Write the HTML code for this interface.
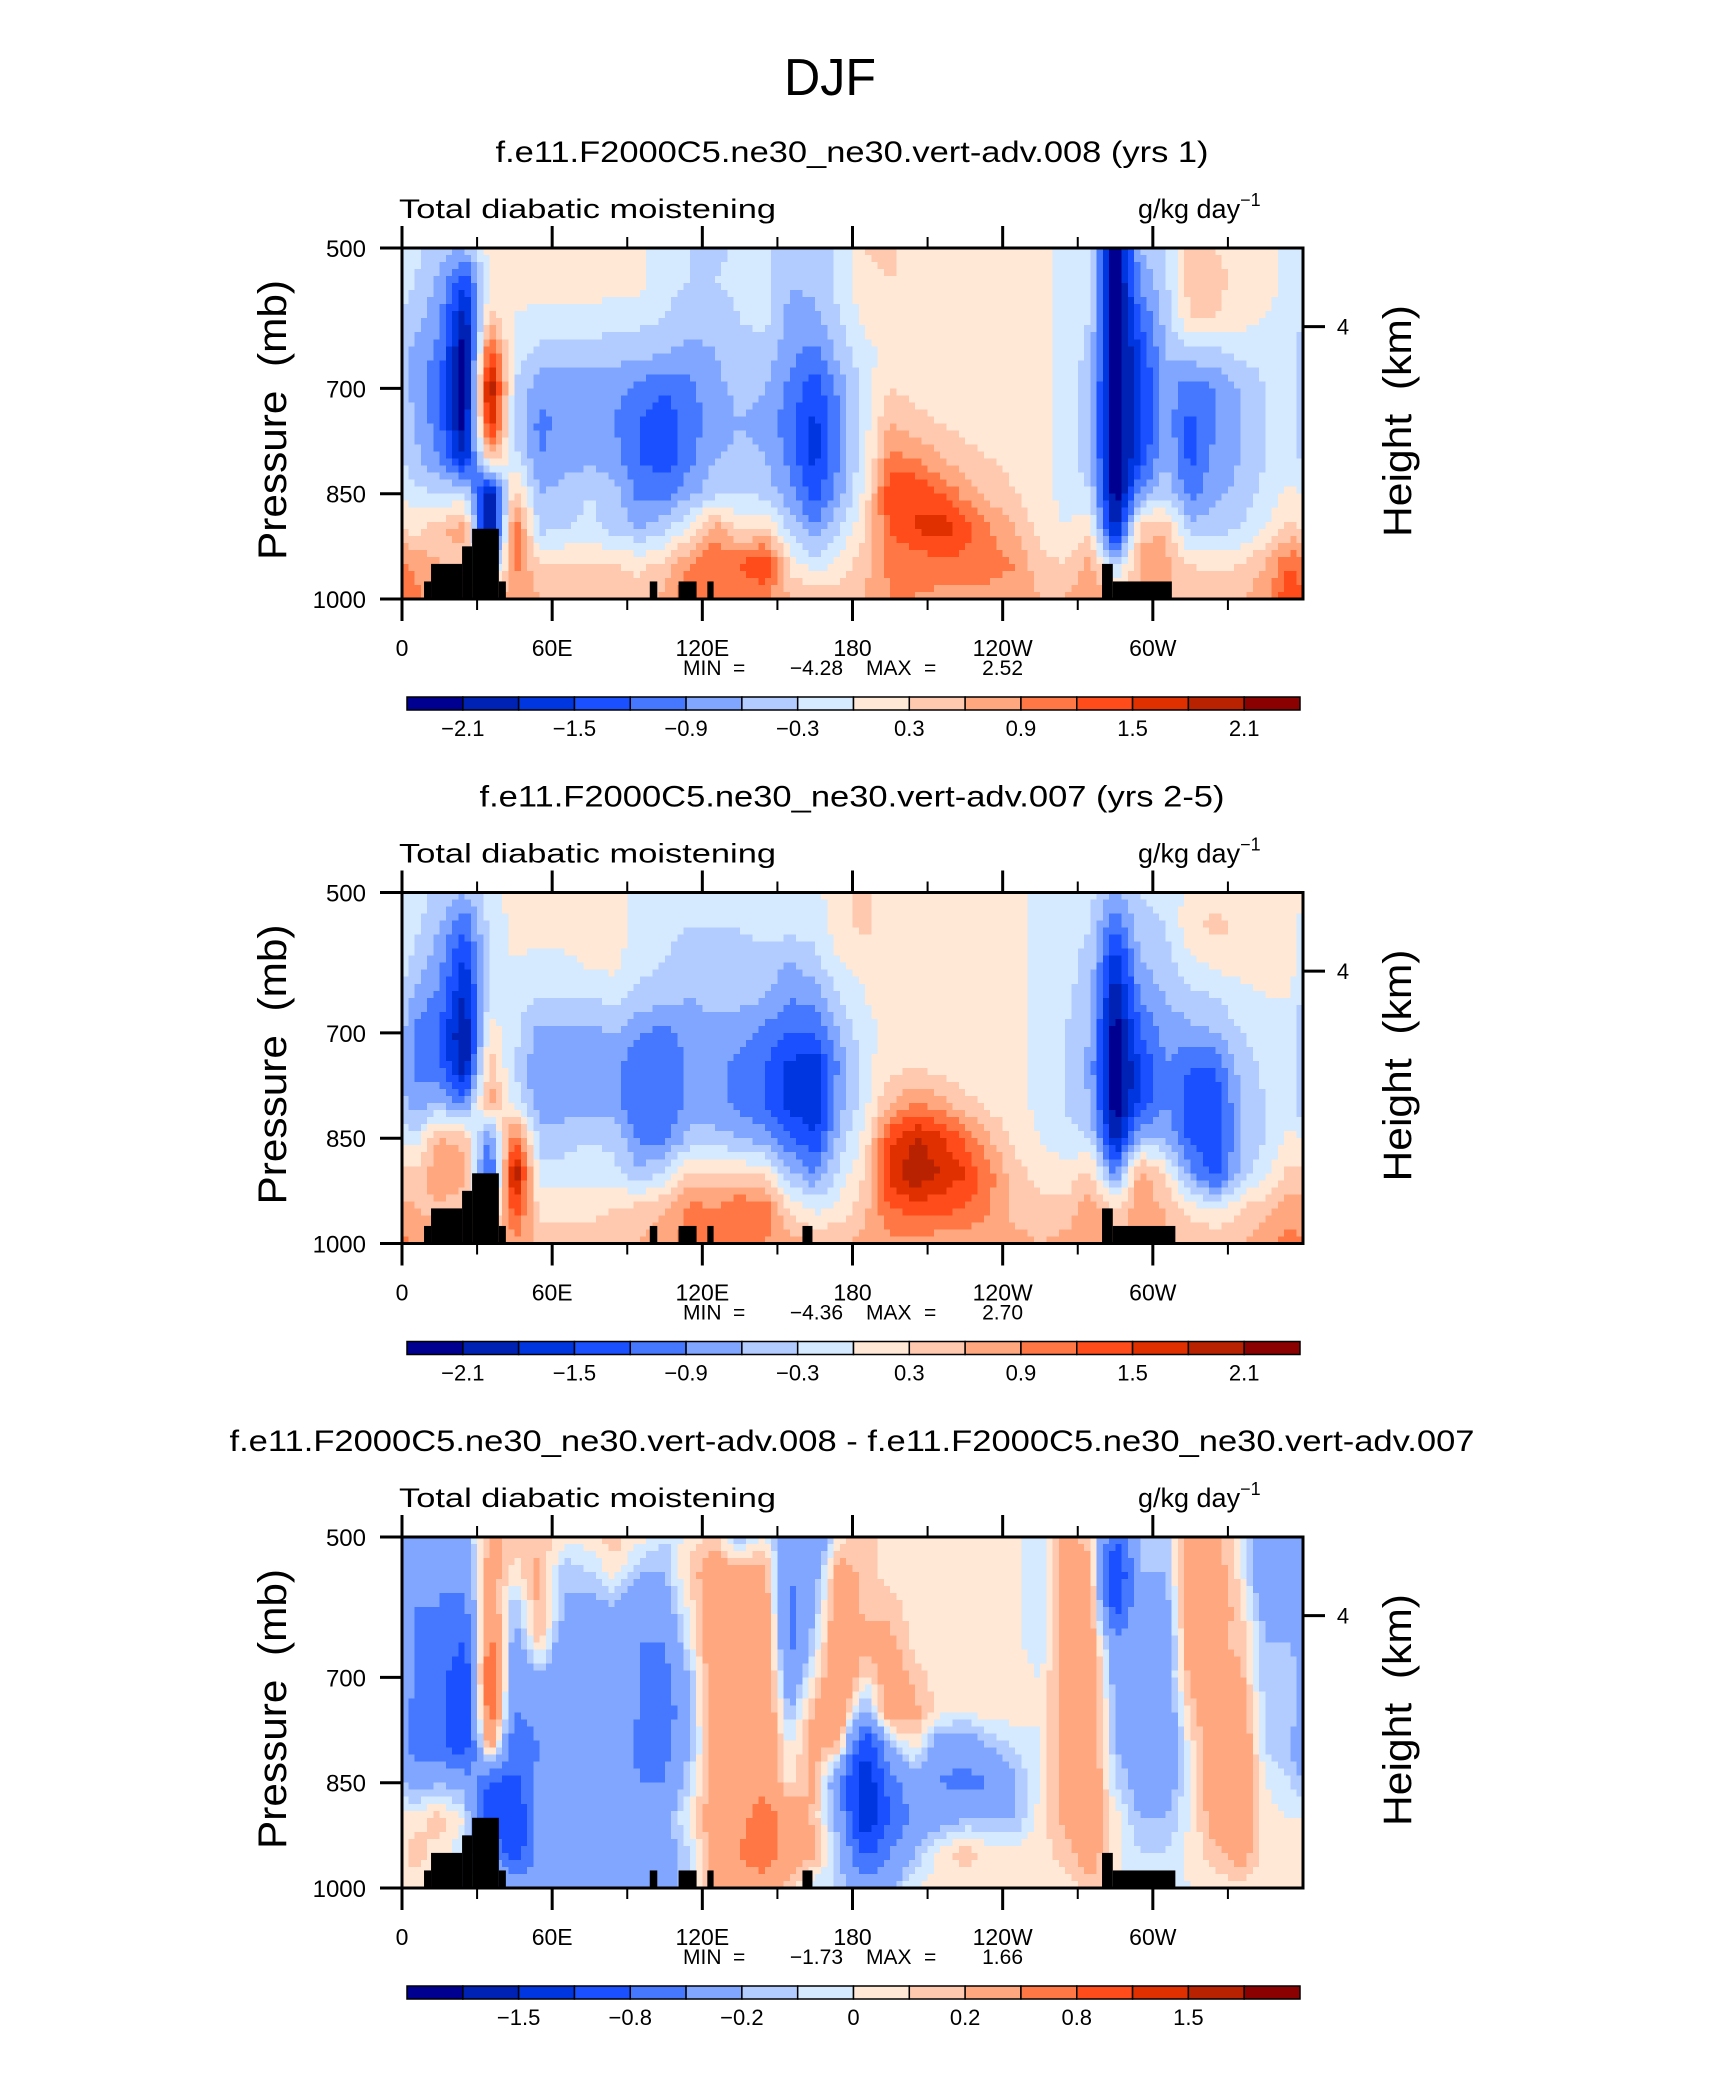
<!DOCTYPE html>
<html><head><meta charset="utf-8"><style>
html,body{margin:0;padding:0;background:#fff;}
svg{display:block;}
text{font-family:"Liberation Sans",sans-serif;fill:#000;white-space:pre;}
</style></head><body>
<svg id="fig" width="1710" height="2074" viewBox="0 0 1710 2074" xmlns="http://www.w3.org/2000/svg">
<rect width="1710" height="2074" fill="#fff"/>
<text x="830" y="95" font-size="52" text-anchor="middle" textLength="92" lengthAdjust="spacingAndGlyphs">DJF</text>
<g id="panels"></g>
</svg>
<script>
// ---- data ----
const lons = [5,15,25,35,45,55,65,75,85,95,105,115,125,135,145,155,165,175,185,195,205,215,225,235,245,255,265,275,285,295,305,315,325,335,345,355];
const levs = [500,550,600,650,700,750,800,850,900,950,1000];
const xTickVals = [0,60,120,180,240,300];
const xTickLabels = ["0","60E","120E","180","120W","60W"];
const xMinorVals = [30,90,150,210,270,330];
const yTickVals = [500,700,850,1000];
const yTickLabels = ["500","700","850","1000"];
const heightTickP = 612;
const colors = ["#000090","#0022b4","#0036e0","#1a50ff","#4578ff","#80a6ff","#b3ccff","#d6eaff","#ffe8d6","#ffc9b0","#ffa880","#ff7744","#ff4c1a","#e03000","#b82200","#8b0000"];
const levelsA = [-2.1,-1.8,-1.5,-1.2,-0.9,-0.6,-0.3,0,0.3,0.6,0.9,1.2,1.5,1.8,2.1];
const labelsA = ["-2.1","","-1.5","","-0.9","","-0.3","","0.3","","0.9","","1.5","","2.1"];
const levelsC = [-2.0,-1.5,-1.2,-0.8,-0.5,-0.2,-0.1,0,0.1,0.2,0.5,0.8,1.2,1.5,2.0];
const labelsC = ["","-1.5","","-0.8","","-0.2","","0","","0.2","","0.8","","1.5",""];
const terrainLon0A = [8.8,11.6,24,28,38.7,99,110.5,122,279.7,284];
const terrainLon1A = [11.6,24,28,38.7,41.5,102,117.7,124.5,284,307.6];
const terrainTopA = [975,950,925,900,975,975,975,975,950,975];
const terrainLon0B = [8.8,11.6,24,28,38.7,99,110.5,122,160,279.7,284];
const terrainLon1B = [11.6,24,28,38.7,41.5,102,117.7,124.5,164,284,309];
const terrainTopB = [975,950,925,900,975,975,975,975,975,950,975];

const field1 = [
[-0.2,-0.5,-0.6,0.1,0.1,0.1,0.1,0.2,0.1,0.1,-0.2,-0.3,-0.4,-0.2,-0.2,-0.6,-0.5,-0.2,0.3,0.4,0.1,0.1,0.1,0.1,0.1,0.1,-0.1,-0.2,-2.4,-0.6,-0.3,0.4,0.3,0.2,0.1,-0.1],
[-0.3,-0.7,-1.5,0.1,0.1,0.1,0.1,0.2,0.1,0.1,-0.2,-0.3,-0.3,-0.2,-0.2,-0.6,-0.5,-0.2,0.2,0.3,0.1,0.1,0.1,0.1,0.1,0.1,-0.1,-0.2,-2.4,-0.8,-0.4,0.5,0.4,0.2,0.1,-0.1],
[-0.5,-0.8,-2.1,0.4,0.0,-0.1,-0.1,-0.1,-0.2,-0.2,-0.3,-0.5,-0.5,-0.3,-0.2,-0.7,-0.7,-0.3,0.1,0.2,0.1,0.1,0.1,0.1,0.1,0.1,-0.1,-0.3,-2.4,-1.2,-0.5,0.3,0.3,0.1,0.0,-0.1],
[-0.7,-1.0,-2.4,1.5,-0.2,-0.4,-0.4,-0.4,-0.5,-0.5,-0.6,-0.7,-0.6,-0.4,-0.4,-0.8,-1.0,-0.5,-0.1,0.1,0.1,0.1,0.1,0.1,0.1,0.1,-0.1,-0.4,-2.4,-1.5,-0.6,-0.4,-0.4,-0.2,-0.2,-0.2],
[-0.7,-1.2,-2.4,2.2,-0.3,-0.8,-0.9,-0.8,-0.8,-1.0,-1.2,-1.0,-0.7,-0.5,-0.6,-1.0,-1.4,-0.8,-0.1,0.3,0.2,0.1,0.1,0.1,0.1,0.1,-0.1,-0.5,-2.4,-1.6,-0.7,-1.1,-0.9,-0.6,-0.3,-0.2],
[-0.6,-1.1,-2.3,1.8,-0.3,-1.0,-0.8,-0.8,-0.9,-1.2,-1.4,-1.0,-0.8,-0.6,-0.7,-1.1,-1.6,-0.9,-0.1,0.6,0.4,0.3,0.2,0.1,0.1,0.1,-0.1,-0.5,-2.4,-1.6,-0.7,-1.3,-0.9,-0.6,-0.3,-0.2],
[-0.5,-0.9,-1.8,0.5,-0.2,-0.9,-0.7,-0.7,-0.8,-1.2,-1.4,-1.0,-0.6,-0.5,-0.6,-1.0,-1.6,-0.9,-0.1,1.0,0.9,0.6,0.4,0.3,0.2,0.1,-0.1,-0.5,-2.4,-1.5,-0.6,-1.3,-0.8,-0.6,-0.3,-0.2],
[-0.2,-0.3,-0.2,-2.2,0.5,-0.6,-0.5,-0.3,-0.5,-1.0,-1.0,-0.7,-0.4,-0.3,-0.4,-0.8,-1.4,-0.7,0.1,1.5,1.5,1.2,0.8,0.5,0.3,0.1,-0.1,-0.3,-2.4,-0.8,-0.4,-1.0,-0.7,-0.5,-0.2,0.1],
[0.2,0.5,0.8,-2.4,1.2,-0.4,-0.3,-0.2,-0.4,-0.6,-0.4,0.1,0.8,0.2,0.4,-0.4,-0.8,-0.3,0.3,1.2,1.5,1.7,1.3,0.9,0.6,0.2,0.0,0.2,-2.0,0.5,0.6,-0.5,-0.4,-0.3,0.0,0.4],
[0.8,0.6,0.4,-1.0,1.0,0.3,0.3,0.3,0.3,0.2,0.4,0.9,1.2,1.2,1.6,0.2,-0.2,0.1,0.5,1.0,1.0,1.1,1.1,1.0,0.9,0.4,0.3,0.7,-0.5,0.7,0.7,0.3,0.2,0.3,0.6,1.2],
[1.0,0.7,0.6,0.5,0.9,0.6,0.6,0.5,0.5,0.5,0.7,1.2,1.2,1.0,0.9,0.6,0.5,0.5,0.6,0.9,0.9,0.8,0.8,0.8,0.8,0.6,0.6,0.9,0.6,0.6,0.6,0.6,0.6,0.6,0.8,1.5]];

const field2 = [
[-0.1,-0.4,-0.6,-0.1,0.1,0.1,0.1,0.1,0.1,-0.1,-0.2,-0.3,-0.2,-0.3,-0.2,-0.2,-0.1,0.2,0.4,0.1,0.1,0.1,0.1,0.1,0.1,-0.1,-0.1,-0.2,-0.7,-0.3,-0.2,0.1,0.2,0.1,0.1,0.1],
[-0.2,-0.6,-1.2,-0.2,0.1,0.1,0.2,0.1,0.1,-0.1,-0.2,-0.3,-0.3,-0.3,-0.2,-0.2,-0.2,0.2,0.4,0.1,0.1,0.1,0.1,0.1,0.1,-0.1,-0.2,-0.3,-1.2,-0.4,-0.3,0.2,0.4,0.2,0.1,0.1],
[-0.4,-0.8,-1.6,-0.2,0.0,-0.1,-0.1,0.1,0.1,-0.2,-0.3,-0.5,-0.4,-0.4,-0.4,-0.6,-0.4,0.0,0.1,0.1,0.1,0.1,0.1,0.1,0.1,-0.1,-0.2,-0.4,-1.8,-0.6,-0.4,-0.1,0.1,0.1,0.1,0.1],
[-0.7,-1.0,-1.9,-0.2,-0.2,-0.3,-0.3,-0.3,-0.2,-0.4,-0.5,-0.6,-0.5,-0.5,-0.6,-0.9,-0.8,-0.3,0.0,0.1,0.1,0.1,0.1,0.1,0.1,-0.1,-0.2,-0.5,-2.1,-0.9,-0.6,-0.4,-0.3,-0.1,0.0,0.0],
[-1.0,-1.2,-2.2,0.2,-0.2,-0.7,-0.7,-0.7,-0.6,-0.9,-1.0,-0.8,-0.7,-0.8,-1.0,-1.2,-1.2,-0.6,-0.1,0.1,0.1,0.1,0.1,0.1,0.1,-0.1,-0.3,-0.6,-2.4,-1.2,-0.8,-0.7,-0.6,-0.3,-0.2,-0.1],
[-1.0,-1.1,-2.1,0.5,-0.3,-0.9,-0.9,-0.8,-0.8,-1.2,-1.2,-0.8,-0.8,-1.0,-1.2,-1.6,-1.8,-0.8,-0.1,0.2,0.3,0.2,0.1,0.1,0.1,-0.1,-0.3,-0.7,-2.4,-1.5,-0.9,-1.2,-1.2,-0.5,-0.2,-0.2],
[-0.8,-0.6,-1.0,0.8,-0.1,-0.8,-0.8,-0.8,-0.8,-1.2,-1.2,-0.8,-0.8,-1.0,-1.2,-1.6,-1.8,-0.7,-0.1,0.6,0.9,0.7,0.4,0.2,0.1,-0.1,-0.3,-0.6,-2.4,-1.4,-0.9,-1.4,-1.4,-0.6,-0.3,-0.2],
[-0.2,0.6,0.5,-1.0,1.2,-0.4,-0.4,-0.3,-0.4,-1.0,-1.0,-0.5,-0.5,-0.6,-0.8,-1.2,-1.5,-0.5,0.1,1.4,1.8,1.6,1.1,0.6,0.2,0.0,-0.2,-0.3,-2.0,-0.6,-0.6,-1.3,-1.5,-0.6,-0.3,0.1],
[0.4,0.9,0.7,-1.5,2.2,-0.2,-0.2,-0.2,-0.2,-0.5,-0.3,0.4,0.3,0.3,0.2,-0.5,-0.9,-0.2,0.3,1.6,2.1,1.8,1.5,1.0,0.4,0.2,0.1,0.4,-1.0,0.8,0.2,-0.8,-1.4,-0.5,-0.1,0.4],
[0.6,0.5,0.4,-0.5,1.4,0.2,0.2,0.2,0.3,0.4,0.6,1.0,0.9,1.2,1.1,0.2,-0.1,0.1,0.5,1.2,1.3,1.3,1.2,0.9,0.5,0.4,0.4,0.8,0.3,0.8,0.6,0.2,-0.1,0.3,0.5,0.8],
[0.9,0.7,0.6,0.5,0.8,0.5,0.5,0.5,0.5,0.6,0.8,1.0,1.0,1.0,0.9,0.7,0.6,0.6,0.7,0.8,0.8,0.7,0.7,0.7,0.7,0.6,0.7,0.9,0.7,0.6,0.6,0.6,0.6,0.6,0.8,1.0]];

const field3 = [
[-0.5,-0.4,-0.3,0.25,0.15,0.15,0.05,0.05,0.15,0.05,-0.1,0.05,0.15,-0.2,0.05,-0.5,-0.5,0.05,0.15,0.05,0.05,0.05,0.05,0.05,0.05,-0.1,0.25,0.15,-0.8,-0.1,-0.2,0.35,0.25,0.05,-0.5,-0.2],
[-0.5,-0.5,-0.4,0.3,0.05,0.25,-0.2,-0.1,0.05,-0.2,-0.2,0.15,0.3,0.25,0.25,-0.5,-0.3,0.3,0.15,0.05,0.05,0.05,0.05,0.05,0.05,-0.1,0.3,0.25,-1.2,-0.2,-0.2,0.4,0.3,0.05,-0.5,-0.5],
[-0.5,-0.5,-0.6,0.4,-0.2,0.25,-0.2,-0.3,-0.2,-0.4,-0.3,0.05,0.35,0.35,0.35,-0.6,-0.2,0.4,0.15,0.15,0.05,0.05,0.05,0.05,0.05,-0.1,0.3,0.3,-1.0,-0.2,-0.3,0.4,0.3,0.15,-0.3,-0.4],
[-0.5,-0.6,-0.8,0.6,-0.3,0.15,-0.4,-0.5,-0.3,-0.5,-0.5,0.0,0.4,0.4,0.4,-0.6,-0.1,0.45,0.25,0.25,0.05,0.05,0.05,0.05,0.05,-0.1,0.3,0.35,-0.4,-0.2,-0.4,0.35,0.25,0.15,-0.2,-0.2],
[-0.5,-0.6,-1.2,0.9,-0.5,-0.2,-0.5,-0.5,-0.4,-0.5,-0.6,-0.2,0.4,0.4,0.45,-0.4,0.05,0.45,0.05,0.35,0.15,0.05,0.05,0.05,0.05,0.0,0.3,0.4,-0.3,-0.2,-0.3,0.25,0.3,0.25,-0.2,-0.1],
[-0.6,-0.7,-1.1,0.7,-0.5,-0.4,-0.5,-0.5,-0.4,-0.5,-0.7,-0.2,0.35,0.4,0.45,-0.2,0.25,0.4,-0.3,0.35,0.25,0.05,0.0,0.05,0.05,0.0,0.3,0.4,-0.2,-0.2,-0.4,0.15,0.35,0.35,-0.1,-0.1],
[-0.6,-0.7,-1.0,0.3,-0.7,-0.5,-0.5,-0.4,-0.2,-0.6,-0.6,-0.2,0.3,0.4,0.4,0.0,0.25,0.15,-1.2,-0.2,0.05,-0.4,-0.4,-0.2,-0.1,0.0,0.3,0.4,-0.2,-0.3,-0.5,0.05,0.35,0.4,-0.1,-0.2],
[-0.3,-0.2,-0.3,-0.8,-0.9,-0.4,-0.4,-0.3,-0.2,-0.5,-0.5,-0.1,0.3,0.4,0.45,0.05,0.25,-0.5,-1.6,-0.6,-0.3,-0.5,-0.6,-0.5,-0.2,0.0,0.3,0.4,-0.1,-0.3,-0.4,0.05,0.35,0.4,0.0,-0.1],
[0.05,0.15,0.0,-1.2,-1.2,-0.3,-0.3,-0.2,-0.2,-0.5,-0.3,0.05,0.35,0.45,0.6,0.4,0.15,-0.3,-1.6,-0.8,-0.4,-0.3,-0.2,-0.2,-0.2,0.05,0.25,0.35,0.05,-0.2,-0.2,0.0,0.3,0.4,0.05,0.0],
[0.15,0.05,-0.1,-0.4,-1.0,-0.4,-0.3,-0.2,-0.3,-0.5,-0.3,-0.1,0.3,0.5,0.7,0.35,0.25,-0.2,-0.9,-0.5,-0.2,0.05,0.15,0.05,0.05,0.05,0.15,0.3,0.05,-0.1,-0.1,0.05,0.15,0.3,0.05,0.0],
[0.05,0.05,0.0,-0.1,-0.3,-0.3,-0.3,-0.2,-0.3,-0.4,-0.3,-0.1,0.25,0.35,0.35,0.15,-0.1,-0.1,-0.3,-0.2,0.0,0.05,0.05,0.05,0.05,0.05,0.05,0.15,0.0,-0.1,-0.1,0.0,0.05,0.05,0.0,0.0]];

const titles = ["f.e11.F2000C5.ne30_ne30.vert-adv.008 (yrs 1)","f.e11.F2000C5.ne30_ne30.vert-adv.007 (yrs 2-5)","f.e11.F2000C5.ne30_ne30.vert-adv.008 - f.e11.F2000C5.ne30_ne30.vert-adv.007"];
const titleWidths = [713,745,1245];
const minVals = ["-4.28","-4.36","-1.73"];
const maxVals = ["2.52","2.70","1.66"];

// ---- layout ----
const NS="http://www.w3.org/2000/svg";
const X0=402, X1=1303, Y0=248, Y1=599, DY=644.5;
const CB0=407, CB1=1300;
function mk(tag, attrs, parent, txt){const e=document.createElementNS(NS,tag);for(const k in attrs)e.setAttribute(k,attrs[k]);if(txt!==undefined)e.textContent=txt;parent.appendChild(e);return e;}
function xs(lon){return X0+(lon/360)*(X1-X0);}
function ys(p,off){return off+Y0+(p-500)/500*(Y1-Y0);}
function colorFor(v,levels){let i=0;while(i<levels.length&&v>=levels[i])i++;return colors[i];}
function sample(field,lon,p){
  let li=(lon-5)/10; let i0=Math.floor(li), t=li-i0;
  const n=lons.length; const a=((i0%n)+n)%n, b=(((i0+1)%n)+n)%n;
  let pj=(p-500)/50; let j0=Math.min(Math.floor(pj),levs.length-2), u=pj-j0;
  const v00=field[j0][a],v01=field[j0][b],v10=field[j0+1][a],v11=field[j0+1][b];
  return (v00*(1-t)+v01*t)*(1-u)+(v10*(1-t)+v11*t)*u;
}
const root=document.getElementById('panels');
const panels=[{f:field1,lv:levelsA,lb:labelsA,t0:terrainLon0A,t1:terrainLon1A,tt:terrainTopA},
              {f:field2,lv:levelsA,lb:labelsA,t0:terrainLon0B,t1:terrainLon1B,tt:terrainTopB},
              {f:field3,lv:levelsC,lb:labelsC,t0:terrainLon0B,t1:terrainLon1B,tt:terrainTopB}];
panels.forEach((P,k)=>{
  const off=k*DY;
  const g=mk('g',{},root);
  
  
  const tt=mk('text',{x:852,y:162+off,'font-size':30,'text-anchor':'middle',textLength:titleWidths[k],lengthAdjust:'spacingAndGlyphs'},g,titles[k]);
  
  
  const ls=mk('text',{x:399,y:218+off,'font-size':27,textLength:377,lengthAdjust:'spacingAndGlyphs'},g,'Total diabatic moistening');
  
  
  const rs=mk('text',{x:1138,y:218+off,'font-size':27},g,'');
  
  
  mk('tspan',{},rs,'g/kg day');
  mk('tspan',{dy:-12,'font-size':18},rs,'\u22121');
  // field
  const fg=mk('g',{'shape-rendering':'crispEdges'},g);
  
  
  const dl=2.5, dp=10;
  for(let p=500;p<1000;p+=dp){
    let runStart=0, runCol=null;
    const pc=p+dp/2;
    for(let lon=0;lon<=360;lon+=dl){
      const c = lon<360 ? colorFor(sample(P.f,lon+dl/2,pc),P.lv) : null;
      if(c!==runCol){
        if(runCol!==null){
          const r=mk('rect',{x:xs(runStart),y:ys(p,off),width:xs(lon)-xs(runStart)+0.6,height:ys(p+dp,off)-ys(p,off)+0.6,fill:runCol},fg);
          
          
        }
        runStart=lon; runCol=c;
      }
    }
  }
  // terrain
  P.t0.forEach((l0,i)=>{
    const r=mk('rect',{x:xs(l0),y:ys(P.tt[i],off),width:xs(P.t1[i])-xs(l0),height:ys(1000,off)-ys(P.tt[i],off),fill:'#000'},g);
    
    
  });
  // frame
  const fr=mk('rect',{x:X0,y:Y0+off,width:X1-X0,height:Y1-Y0,fill:'none',stroke:'#000','stroke-width':3},g);
  
  
  xTickVals.forEach((v,i)=>{
    const x=xs(v);
    mk('line',{x1:x,x2:x,y1:Y1+off,y2:Y1+off+22,stroke:'#000','stroke-width':3},g);
    mk('line',{x1:x,x2:x,y1:Y0+off,y2:Y0+off-22,stroke:'#000','stroke-width':3},g);
    const t=mk('text',{x:x,y:656+off,'font-size':23,'text-anchor':'middle'},g,xTickLabels[i]);
    
    
  });
  xMinorVals.forEach(v=>{
    const x=xs(v);
    mk('line',{x1:x,x2:x,y1:Y1+off,y2:Y1+off+11,stroke:'#000','stroke-width':2},g);
    mk('line',{x1:x,x2:x,y1:Y0+off,y2:Y0+off-11,stroke:'#000','stroke-width':2},g);
  });
  yTickVals.forEach((v,i)=>{
    const y=ys(v,off);
    mk('line',{x1:X0,x2:X0-22,y1:y,y2:y,stroke:'#000','stroke-width':3},g);
    const t=mk('text',{x:366,y:y+9,'font-size':24,'text-anchor':'end'},g,yTickLabels[i]);
    
    
  });
  const hy=ys(heightTickP,off);
  mk('line',{x1:X1,x2:X1+22,y1:hy,y2:hy,stroke:'#000','stroke-width':3},g);
  const h4=mk('text',{x:1343,y:hy+8,'font-size':22,'text-anchor':'middle'},g,'4');
  
  
  const yt=mk('text',{x:0,y:0,'font-size':40,'text-anchor':'middle',transform:`translate(286 ${420+off}) rotate(-90)`,textLength:280,lengthAdjust:'spacingAndGlyphs'},g,'Pressure  (mb)');
  
  
  const ht=mk('text',{x:0,y:0,'font-size':40,'text-anchor':'middle',transform:`translate(1411 ${421+off}) rotate(-90)`,textLength:232,lengthAdjust:'spacingAndGlyphs'},g,'Height  (km)');
  
  
  const mm=mk('text',{y:675+off,'font-size':21},g);
  
  
  mk('tspan',{x:683},mm,'MIN');
  mk('tspan',{x:733},mm,'=');
  mk('tspan',{x:843,'text-anchor':'end'},mm,minVals[k].replace('-','\u2212'));
  mk('tspan',{x:866},mm,'MAX');
  mk('tspan',{x:924},mm,'=');
  mk('tspan',{x:1023,'text-anchor':'end'},mm,maxVals[k]);
  // colorbar
  const cb=mk('g',{},g);
  
  
  const bw=(CB1-CB0)/colors.length;
  colors.forEach((c,i)=>{
    const r=mk('rect',{x:CB0+i*bw,y:697+off,width:bw,height:13,fill:c,stroke:'#000','stroke-width':1.5},cb);
    
    
  });
  P.lb.forEach((l,i)=>{
    if(!l)return;
    const t=mk('text',{x:CB0+(i+1)*bw,y:736+off,'font-size':22,'text-anchor':'middle'},cb,l.replace('-','\u2212'));
    
    
  });
});
</script>
</body></html>
